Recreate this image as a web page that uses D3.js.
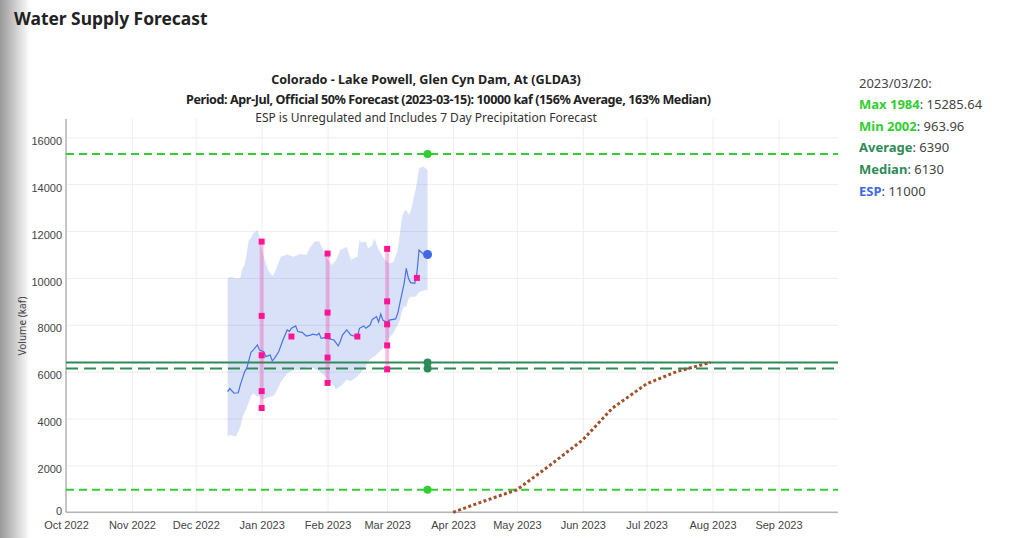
<!DOCTYPE html>
<html>
<head>
<meta charset="utf-8">
<script src="https://cdn.jsdelivr.net/npm/d3@7/dist/d3.min.js"></script>
<style>
  body { margin: 0; background: #fff; }
  svg { display: block; font-family: "Noto Sans", sans-serif; }
  .axis text { fill: #444; font-size: 11px; }
  .axis path, .axis line { stroke: none; }
  .grid line { stroke: #eeeeee; stroke-width: 1; }
  .grid path { stroke: none; }
</style>
</head>
<body>
<svg width="1024" height="538"></svg>
<script>
// tick labels
var yTicks = [0, 2000, 4000, 6000, 8000, 10000, 12000, 14000, 16000];

// ESP trace (daily-ish)
var espDates = ["2022-12-16","2022-12-17","2022-12-19","2022-12-21","2022-12-22","2022-12-24","2022-12-25","2022-12-27",
  "2022-12-28","2022-12-30","2022-12-31","2023-01-02","2023-01-03","2023-01-05","2023-01-06","2023-01-07","2023-01-09",
  "2023-01-11","2023-01-12","2023-01-13","2023-01-14","2023-01-15","2023-01-17","2023-01-18","2023-01-20","2023-01-22",
  "2023-01-24","2023-01-25","2023-01-27","2023-01-28","2023-01-29","2023-01-30","2023-01-31","2023-02-01","2023-02-04",
  "2023-02-06","2023-02-07","2023-02-08","2023-02-10","2023-02-12","2023-02-15","2023-02-16","2023-02-18","2023-02-19",
  "2023-02-21","2023-02-22","2023-02-24","2023-02-25","2023-02-26","2023-02-27","2023-03-01","2023-03-02","2023-03-05",
  "2023-03-06","2023-03-07","2023-03-09","2023-03-10","2023-03-11","2023-03-12","2023-03-14","2023-03-15","2023-03-16",
  "2023-03-18","2023-03-20"];
var espValues = [5150, 5280, 5080, 5100, 5450, 6000, 6150, 6830,
  6920, 7140, 6920, 6850, 6640, 6710, 6460, 6570, 6850,
  7350, 7560, 7780, 7720, 7850, 7950, 7710, 7680, 7520,
  7560, 7600, 7560, 7640, 7420, 7440, 7460, 7420, 7350,
  7100, 7300, 7560, 7780, 7560, 7490, 7850, 7950, 7850,
  7990, 8230, 8350, 8120, 8460, 8200, 8090, 8200, 8250,
  8490, 8920, 9770, 10410, 9980, 9800, 9770, 10200, 11190,
  11020, 10980];

// ESP range band
var bandDates = ["2022-12-16","2022-12-17","2022-12-20","2022-12-22","2022-12-23","2022-12-24","2022-12-26","2022-12-27",
  "2022-12-28","2022-12-30","2022-12-31","2023-01-01","2023-01-03","2023-01-04","2023-01-06","2023-01-07","2023-01-10",
  "2023-01-13","2023-01-16","2023-01-19","2023-01-22","2023-01-24","2023-01-26","2023-01-28","2023-01-30","2023-02-01",
  "2023-02-03","2023-02-05","2023-02-07","2023-02-08","2023-02-10","2023-02-12","2023-02-15","2023-02-16","2023-02-17",
  "2023-02-19","2023-02-20","2023-02-22","2023-02-23","2023-02-25","2023-02-26","2023-02-28","2023-03-02","2023-03-04",
  "2023-03-06","2023-03-07","2023-03-08","2023-03-09","2023-03-10","2023-03-11","2023-03-12","2023-03-13","2023-03-14",
  "2023-03-15","2023-03-16","2023-03-18","2023-03-20"];
var bandHigh = [9980, 10050, 9980, 10000, 10410, 10550, 11620, 11690, 11900, 12040,
  11760, 11190, 10620, 10340, 10080, 10200, 10900, 11000, 10900, 11020,
  10980, 11330, 11550, 11560, 11190, 10770, 10550, 10770, 11190, 11230,
  11330, 10770, 10900, 11620, 11500, 11550, 11260, 11400, 11690, 11190,
  11050, 10770, 10620, 10690, 11190, 11900, 12600, 12830, 12900, 12700,
  12830, 13200, 13610, 14040, 14680, 14750, 14600];
var bandLow = [3230, 3300, 3230, 3650, 4080, 4250, 4700, 4950, 5080, 4930,
  4960, 4800, 4850, 4900, 4950, 5000, 5550, 5930, 6070, 6070,
  6200, 6210, 6100, 6030, 5880, 5650, 5500, 5250, 5380, 5450,
  5650, 5600, 5790, 5900, 6000, 6250, 6420, 6600, 6650, 6820,
  6900, 7070, 7450, 7650, 8000, 8200, 8600, 8770, 8770, 9100,
  9200, 9200, 9200, 9250, 9400, 9450, 9480];

// official forecasts (10/30/50/70/90%)
var fcstDates = ["2023-01-01", "2023-02-01", "2023-03-01"];
var fcstValues = [[4450, 5170, 6700, 8380, 11550], [5520, 6600, 7520, 8520, 11040], [6100, 7120, 8020, 9000, 11240]];
var midDates = ["2023-01-15", "2023-02-15", "2023-03-15"];
var midValues = [7500, 7500, 10000];

// average seasonal accumulation
var avgDates = ["2023-04-01","2023-04-15","2023-05-01","2023-05-15","2023-06-01","2023-06-15","2023-07-01","2023-07-15","2023-07-31"];
var avgValues = [0, 460, 960, 1900, 3090, 4450, 5480, 6000, 6390];

// statistics
var statDate = "2023-03-20";
var statNames = ["Max 1984", "Min 2002", "Average", "Median", "ESP"];
var statValues = [15285.64, 963.96, 6390, 6130, 11000];

var parse = d3.timeParse("%Y-%m-%d");

var svg = d3.select("svg");

// left shadow
var defs = svg.append("defs");
var grad = defs.append("linearGradient").attr("id", "shade");
grad.append("stop").attr("offset", "0%").attr("stop-color", "#000").attr("stop-opacity", 0.4);
grad.append("stop").attr("offset", "100%").attr("stop-color", "#000").attr("stop-opacity", 0);
svg.append("rect").attr("width", 30).attr("height", 538).attr("fill", "url(#shade)");

svg.append("text")
    .attr("x", 14).attr("y", 25)
    .style("font-size", "17.4px").style("font-weight", "bold").attr("fill", "#222")
    .text("Water Supply Forecast");

var x = d3.scaleTime().domain([parse("2022-10-01"), parse("2023-09-29")]).range([66, 838]),
    y = d3.scaleLinear().domain([0, 16780]).range([512.3, 119]);

// grid
svg.append("g").attr("class", "grid")
    .attr("transform", "translate(0,512.3)")
    .call(d3.axisBottom(x).ticks(d3.timeMonth.every(1)).tickSize(-(512.3 - 119)).tickFormat(""));
svg.append("g").attr("class", "grid")
    .attr("transform", "translate(66,0)")
    .call(d3.axisLeft(y).tickValues(yTicks).tickSize(-(838 - 66)).tickFormat(""));

// axes
svg.append("g").attr("class", "axis")
    .attr("transform", "translate(0,512.3)")
    .call(d3.axisBottom(x).ticks(d3.timeMonth.every(1)).tickSize(0).tickPadding(9).tickFormat(d3.timeFormat("%b %Y")));
svg.append("g").attr("class", "axis y")
    .attr("transform", "translate(66,0)")
    .call(d3.axisLeft(y).tickValues(yTicks).tickSize(0).tickPadding(4).tickFormat(d3.format("d")))
  .selectAll("text").attr("dy", function(d) { return d === 0 ? "0.2em" : "0.65em"; });

svg.append("line").attr("x1", 66).attr("x2", 838).attr("y1", 512.3).attr("y2", 512.3)
    .attr("stroke", "#b5b5b5").attr("stroke-width", 1.5);
svg.append("line").attr("x1", 66).attr("x2", 66).attr("y1", 119).attr("y2", 512.3)
    .attr("stroke", "#b5b5b5").attr("stroke-width", 1.5);

svg.append("text")
    .attr("transform", "translate(26,326) rotate(-90)")
    .attr("text-anchor", "middle")
    .style("font-size", "10px").attr("fill", "#444")
    .text("Volume (kaf)");

// band
var band = bandDates.map(function(d, i) { return {date: parse(d), lo: bandLow[i], hi: bandHigh[i]}; });
svg.append("path").datum(band)
    .attr("fill", "rgba(65,105,225,0.2)")
    .attr("d", d3.area().x(function(d) { return x(d.date); })
      .y0(function(d) { return y(d.lo); }).y1(function(d) { return y(d.hi); }));

// statistic lines
var statStyle = [
  {color: "#32cd32", dash: "8,5"},
  {color: "#32cd32", dash: "8,5"},
  {color: "#2e8b57", dash: null},
  {color: "#2e8b57", dash: "12,6"}
];
statStyle.forEach(function(s, i) {
  svg.append("line")
      .attr("x1", 66).attr("x2", 838)
      .attr("y1", y(statValues[i])).attr("y2", y(statValues[i]))
      .attr("stroke", s.color).attr("stroke-width", 2)
      .attr("stroke-dasharray", s.dash);
});

// forecast range bars
fcstDates.forEach(function(d, i) {
  var v = fcstValues[i];
  svg.append("line")
      .attr("x1", x(parse(d))).attr("x2", x(parse(d)))
      .attr("y1", y(d3.min(v))).attr("y2", y(d3.max(v)))
      .attr("stroke", "rgba(255,20,147,0.25)").attr("stroke-width", 4);
});

// ESP line
var esp = espDates.map(function(d, i) { return {date: parse(d), value: espValues[i]}; });
svg.append("path").datum(esp)
    .attr("fill", "none").attr("stroke", "#4a72e4").attr("stroke-width", 1.2)
    .attr("d", d3.line().x(function(d) { return x(d.date); }).y(function(d) { return y(d.value); }));

// forecast markers
var marks = [];
fcstDates.forEach(function(d, i) {
  fcstValues[i].forEach(function(v) { marks.push({date: parse(d), value: v}); });
});
midDates.forEach(function(d, i) { marks.push({date: parse(d), value: midValues[i]}); });
svg.selectAll(".mark").data(marks).enter().append("rect")
    .attr("class", "mark")
    .attr("x", function(d) { return x(d.date) - 3; })
    .attr("y", function(d) { return y(d.value) - 3; })
    .attr("width", 6).attr("height", 6)
    .attr("fill", "#ff1493");

// average accumulation
var avg = avgDates.map(function(d, i) { return {date: parse(d), value: avgValues[i]}; });
svg.append("path").datum(avg)
    .attr("fill", "none").attr("stroke", "#a0522d").attr("stroke-width", 3)
    .attr("stroke-dasharray", "3,2.4")
    .attr("d", d3.line().x(function(d) { return x(d.date); }).y(function(d) { return y(d.value); }));

// statistic dots
var dotColors = ["#32cd32", "#32cd32", "#2e8b57", "#2e8b57", "#4169e1"];
svg.selectAll(".dot").data(statValues).enter().append("circle")
    .attr("class", "dot")
    .attr("cx", x(parse(statDate)))
    .attr("cy", function(d) { return y(d); })
    .attr("r", function(d, i) { return i === 4 ? 4.5 : 4; })
    .attr("fill", function(d, i) { return dotColors[i]; });

// chart titles
svg.append("text").attr("x", 426).attr("y", 84).attr("text-anchor", "middle")
    .style("font-size", "12.6px").style("font-weight", "bold").attr("fill", "#222")
    .text("Colorado - Lake Powell, Glen Cyn Dam, At (GLDA3)");
svg.append("text").attr("x", 448.5).attr("y", 104).attr("text-anchor", "middle")
    .attr("textLength", 525).attr("lengthAdjust", "spacing")
    .style("font-size", "12.6px").style("font-weight", "bold").attr("fill", "#222")
    .text("Period: Apr-Jul, Official 50% Forecast (2023-03-15): 10000 kaf (156% Average, 163% Median)");
svg.append("text").attr("x", 426).attr("y", 122).attr("text-anchor", "middle")
    .style("font-size", "12px").attr("fill", "#333")
    .text("ESP is Unregulated and Includes 7 Day Precipitation Forecast");

// side legend
var side = svg.append("g").style("font-size", "13px");
side.append("text").attr("x", 859).attr("y", 88).attr("fill", "#444")
    .text(statDate.replace(/-/g, "/") + ":");
statNames.forEach(function(n, i) {
  var t = side.append("text").attr("x", 859).attr("y", 109 + i * 21.7);
  t.append("tspan").style("font-weight", "bold").attr("fill", dotColors[i]).text(n);
  t.append("tspan").attr("fill", "#444").text(": " + statValues[i]);
});
</script>
</body>
</html>
